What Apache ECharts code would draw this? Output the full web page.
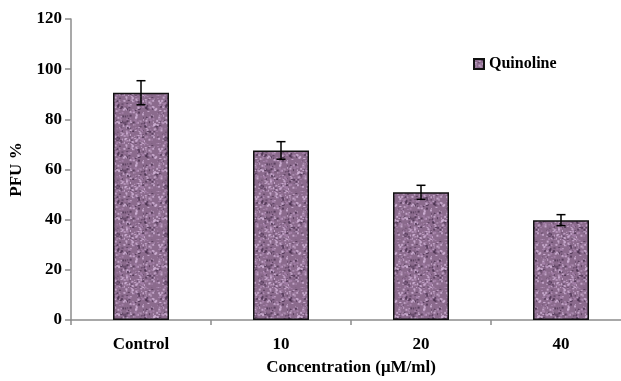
<!DOCTYPE html>
<html>
<head>
<meta charset="utf-8">
<script src="https://cdn.jsdelivr.net/npm/echarts@6/dist/echarts.min.js"></script>
<style>
  html, body { margin: 0; padding: 0; background: #fff; overflow: hidden; }
  /* the original plot runs past the right edge, so the canvas is a bit wider than the window */
  #chart { width: 640px; height: 381px; }
</style>
</head>
<body>
<div id="chart"></div>
<script>
// data
var categories = ['Control', '10', '20', '40'];
var pfu = [90.6, 67.6, 50.9, 39.8];
var pfuErr = [4.8, 3.5, 2.8, 2.2];
var yTicks = [0, 20, 40, 60, 80, 100, 120];

// speckled purple fill, like the original bar texture
function makeTexture() {
    var c = document.createElement('canvas');
    c.width = 48; c.height = 48;
    var ctx = c.getContext('2d');
    ctx.fillStyle = '#8b6b8d';
    ctx.fillRect(0, 0, 48, 48);
    var seed = 7;
    function next() { seed = (seed * 16807) % 2147483647; return seed / 2147483647; }
    for (var i = 0; i < 420; i++) {
        var x = next() * 48, y = next() * 48, r = next();
        if (r < 0.45) ctx.fillStyle = 'rgba(205,175,210,0.85)';
        else if (r < 0.72) ctx.fillStyle = 'rgba(70,45,75,0.7)';
        else ctx.fillStyle = 'rgba(165,130,170,0.9)';
        ctx.fillRect(x, y, 1 + Math.round(next() * 1.5), 1 + Math.round(next()));
    }
    return c;
}

var chart = echarts.init(document.getElementById('chart'));
var font = 'Liberation Serif';

var option = {
    animation: false,
    backgroundColor: '#fff',
    grid: { left: 71, right: 9, top: 19, bottom: 58, containLabel: false },
    legend: {
        data: ['Quinoline'],
        left: 473, top: 56, padding: 0,
        itemWidth: 10, itemHeight: 10,
        icon: 'rect',
        textStyle: { fontFamily: font, fontWeight: 'bold', fontSize: 16, color: '#000' }
    },
    xAxis: {
        type: 'category',
        data: categories,
        name: 'Concentration (\u03bcM/ml)',
        nameLocation: 'middle',
        nameGap: 39,
        nameTextStyle: { fontFamily: font, fontWeight: 'bold', fontSize: 17, color: '#000' },
        axisLine: { lineStyle: { color: '#8c8c8c', width: 1.5 } },
        axisTick: { show: true, length: 5, lineStyle: { color: '#8c8c8c', width: 1.5 } },
        axisLabel: { margin: 16, fontFamily: font, fontWeight: 'bold', fontSize: 17, color: '#000' }
    },
    yAxis: {
        type: 'value',
        min: yTicks[0], max: yTicks[yTicks.length - 1], interval: yTicks[1] - yTicks[0],
        name: 'PFU %',
        nameLocation: 'middle',
        nameGap: 39,
        nameTextStyle: { fontFamily: font, fontWeight: 'bold', fontSize: 17, color: '#000' },
        axisLine: { show: true, lineStyle: { color: '#8c8c8c', width: 1.5 } },
        axisTick: { show: true, length: 6, lineStyle: { color: '#8c8c8c', width: 1.5 } },
        splitLine: { show: false },
        axisLabel: { margin: 9, fontFamily: font, fontWeight: 'bold', fontSize: 17, color: '#000' }
    },
    series: [
        {
            name: 'Quinoline',
            type: 'bar',
            data: pfu,
            barWidth: '40%',
            itemStyle: {
                color: { image: makeTexture(), repeat: 'repeat' },
                borderColor: '#111',
                borderWidth: 1.5
            }
        },
        {
            name: 'err',
            type: 'custom',
            z: 5,
            data: pfu.map(function (v, i) { return [i, v - pfuErr[i], v + pfuErr[i]]; }),
            renderItem: function (params, api) {
                var lo = api.coord([api.value(0), api.value(1)]);
                var hi = api.coord([api.value(0), api.value(2)]);
                var w = 4.5;
                var st = { stroke: '#000', lineWidth: 1.5 };
                return {
                    type: 'group',
                    children: [
                        { type: 'line', shape: { x1: hi[0], y1: hi[1], x2: lo[0], y2: lo[1] }, style: st },
                        { type: 'line', shape: { x1: hi[0] - w, y1: hi[1], x2: hi[0] + w, y2: hi[1] }, style: st },
                        { type: 'line', shape: { x1: lo[0] - w, y1: lo[1], x2: lo[0] + w, y2: lo[1] }, style: st }
                    ]
                };
            }
        }
    ]
};

chart.setOption(option);
</script>
</body>
</html>
